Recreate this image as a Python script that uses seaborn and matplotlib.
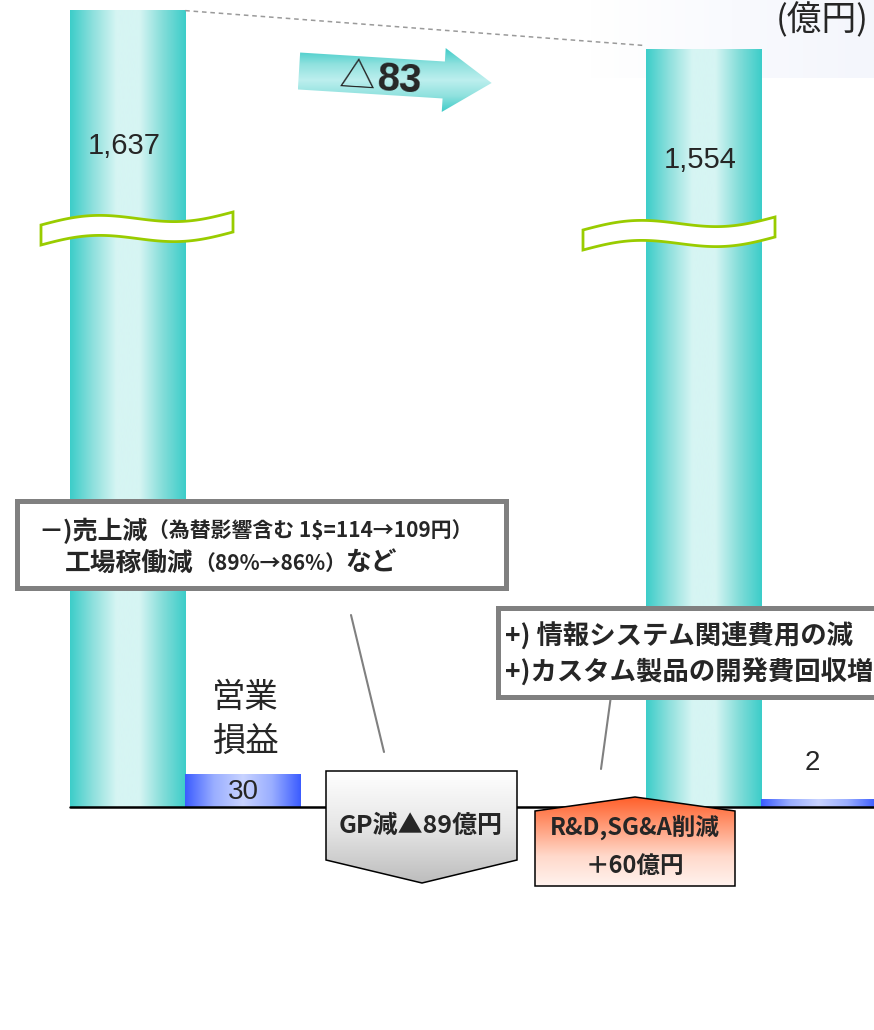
import numpy as np
import pandas as pd
import seaborn as sns
import matplotlib.pyplot as plt
from matplotlib.colors import LinearSegmentedColormap
from matplotlib.patches import Polygon, Rectangle

# ---- data (億円) ----
items = ["前期売上高", "前期営業損益", "当期売上高", "当期営業損益"]
kinds = ["sales", "profit", "sales", "profit"]
values = [1637, 30, 1554, 2]
sales_change = "△83"
gp_text = "GP減▲89億円"
cost_text = ["R&D,SG&A削減", "＋60億円"]
slot_order = ["前期売上高", "前期営業損益", " ", "  ", "   ", "当期売上高", "当期営業損益"]

W, H = 874, 1030
BASE_PX = 807           # baseline row in the picture
SLOT = 115.2            # px per category slot

# broken axis: 0..1000 squeezed into 497px, above that 0.47px per 億円
def sales_px(v):
    return 497 + (v - 1000) * 0.47

# operating profit drawn on its own enlarged scale
def profit_px(v):
    return 6 + 0.87 * v

df = pd.DataFrame({"item": items, "kind": kinds, "value": values})
df["shown"] = [sales_px(v) if k == "sales" else profit_px(v) for v, k in zip(df["value"], df["kind"])]

sns.set_theme(style="white")
plt.rcParams['font.family'] = ['Noto Sans CJK JP', 'DejaVu Sans']
NUM_FONT = ['Liberation Sans', 'DejaVu Sans']

fig = plt.figure(figsize=(W / 100, H / 100), dpi=100)

# faint background panel top right
ax_bg = fig.add_axes([0, 0, 1, 1], zorder=0)
ax_bg.set_xlim(0, W)
ax_bg.set_ylim(H, 0)
ax_bg.axis('off')
bg_cmap = LinearSegmentedColormap.from_list('bg', ['#ffffff', '#f9fafe', '#f4f6fc'])
ax_bg.imshow(np.linspace(0, 1, 256).reshape(1, -1), cmap=bg_cmap, aspect='auto',
             extent=(590, W, 78, 0), zorder=0)
ax_bg.set_xlim(0, W)
ax_bg.set_ylim(H, 0)

# ---- bars ----
ax = fig.add_axes([0, 0, 1, 1], zorder=1)
sns.barplot(data=df, x="item", y="shown", order=slot_order, width=1, color="#40CCCC",
            saturation=1, errorbar=None, ax=ax)

cyan = LinearSegmentedColormap.from_list('cy', ['#3ccdc9', '#8fe0dd', '#d6f5f3', '#d6f5f3', '#84ddd9', '#3ccdc9'])
blue = LinearSegmentedColormap.from_list('bl', ['#3b5cff', '#9aaeff', '#c8d3ff', '#9aaeff', '#3b5cff'])
kind_of = dict(zip(df["item"], df["kind"]))
bars = {}
for p in ax.patches:
    x0, w, h = p.get_x(), p.get_width(), p.get_height()
    if h <= 0:
        continue
    cat = slot_order[int(round(x0 + w / 2))]
    bars[cat] = (x0, w, h)
    cmap = cyan if kind_of[cat] == "sales" else blue
    ax.imshow(np.linspace(0, 1, 256).reshape(1, -1), cmap=cmap, aspect='auto',
              extent=(x0, x0 + w, 0, h), zorder=3, interpolation='bilinear')

left = -0.5 - 70 / SLOT
ax.set_xlim(left, left + W / SLOT)
ax.set_ylim(-(H - BASE_PX), BASE_PX)
ax.axis('off')

# dashed connector between sales bar tops
s1, s2 = bars["前期売上高"], bars["当期売上高"]
ax.plot([s1[0] + s1[1], s2[0]], [s1[2], s2[2] + 4], ls=(0, (3, 2.5)), color='#9a9a9a', lw=1.1, zorder=4)

# baseline
ax.plot([-0.5, left + W / SLOT], [0, 0], color='black', lw=1.8, zorder=5)

# sales labels
for cat, drop in [("前期売上高", 135), ("当期売上高", 110)]:
    x0, w, h = bars[cat]
    v = df.loc[df["item"] == cat, "value"].iloc[0]
    ax.text(x0 + w / 2 - 0.03, h - drop, f"{v:,}", ha='center', va='center',
            fontsize=21, family=NUM_FONT, zorder=6)

# ---- overlay in pixel coordinates ----
ax2 = fig.add_axes([0, 0, 1, 1], zorder=3)
ax2.set_xlim(0, W)
ax2.set_ylim(H, 0)
ax2.axis('off')


def grad_poly(pts, colors, z, ec='black', lw=1.1):
    pts = np.asarray(pts, float)
    poly = Polygon(pts, closed=True, fc='none', ec=ec, lw=lw, zorder=z + 0.1)
    ax2.add_patch(poly)
    cm = LinearSegmentedColormap.from_list('g', colors)
    im = ax2.imshow(np.linspace(0, 1, 256).reshape(-1, 1), cmap=cm, aspect='auto', origin='upper',
                    extent=(pts[:, 0].min(), pts[:, 0].max(), pts[:, 1].max(), pts[:, 1].min()),
                    zorder=z, interpolation='bilinear')
    im.set_clip_path(poly)


def ribbon(x0, y0, width, rise=13, amp=6, thick=20):
    t = np.linspace(0, 1, 80)
    xs = x0 + width * t
    top = y0 - rise * t - amp * np.sin(2 * np.pi * t)
    pts = np.vstack([np.c_[xs, top], np.c_[xs[::-1], top[::-1] + thick]])
    ax2.add_patch(Polygon(pts, closed=True, fc='white', ec='#99cc00', lw=2, zorder=4))


ribbon(41, 225, 192)
ribbon(583, 230, 192)

# △83 arrow (slightly tilted)
theta = np.arctan2(12, 193)
local = np.array([(0, -18.5), (145, -18.5), (145, -32), (193, 0), (145, 32), (145, 18.5), (0, 18.5)])
ox, oy = 299, 71
arrow = np.c_[ox + local[:, 0] * np.cos(theta) - local[:, 1] * np.sin(theta),
              oy + local[:, 0] * np.sin(theta) + local[:, 1] * np.cos(theta)]
grad_poly(arrow, ['#3ecbc8', '#8fe1de', '#bdefee', '#8fe1de', '#3ecbc8'], 4, ec='none', lw=0)
ax2.text(358, 78, sales_change[0], fontsize=26, ha='center', va='center',
         rotation=-np.degrees(theta), zorder=6)
ax2.text(400, 80, sales_change[1:], fontsize=29, fontweight='bold', ha='center', va='center',
         rotation=-np.degrees(theta), family=NUM_FONT, zorder=6)

# unit
ax2.text(869, 3, "(億円)", fontsize=25, ha='right', va='top', zorder=6)

# callout 1
ax2.add_patch(Rectangle((16.5, 500.5), 489, 87, fc='white', ec='#808080', lw=3.6, zorder=4))


def mixed_line(x, y, parts):
    t = ax2.text(x, y, parts[0][0], fontsize=parts[0][1], fontweight='bold', ha='left', va='center', zorder=6)
    for txt, size in parts[1:]:
        t = ax2.annotate(txt, xy=(1, 0.5), xycoords=t, fontsize=size, fontweight='bold',
                         ha='left', va='center', zorder=6)


mixed_line(38, 531, [("－)売上減", 18), ("（為替影響含む 1$=114→109円）", 15)])
mixed_line(65, 563, [("工場稼働減", 18.5), ("（89%→86%）", 15), ("など", 18.5)])
ax2.plot([351, 384], [615, 752], color='#808080', lw=1.5, zorder=3)

# callout 2
ax2.add_patch(Rectangle((497.5, 607.5), 420, 89, fc='white', ec='#808080', lw=3.6, zorder=4))
ax2.text(505, 637, "+) 情報システム関連費用の減", fontsize=19, fontweight='bold', ha='left', va='center', zorder=6)
ax2.text(505, 673, "+)カスタム製品の開発費回収増", fontsize=19, fontweight='bold', ha='left', va='center', zorder=6)
ax2.plot([613, 601], [681, 769], color='#808080', lw=1.5, zorder=3)

# 営業損益 label and profit values
ax2.text(245, 698, "営業", fontsize=24, ha='center', va='center', zorder=6)
ax2.text(245, 741, "損益", fontsize=24, ha='center', va='center', zorder=6)
ax2.text(243, 792, f"{values[1]}", fontsize=20, family=NUM_FONT, ha='center', va='center', zorder=6)
ax2.text(812, 763, f"{values[3]}", fontsize=20, family=NUM_FONT, ha='center', va='center', zorder=6)

# GP down box
gp = [(326, 771), (517, 771), (517, 860), (422, 883), (326, 860)]
grad_poly(gp, ['#ffffff', '#e6e6e6', '#bdbdbd'], 4)
ax2.text(421, 826, gp_text, fontsize=18, fontweight='bold', ha='center', va='center', zorder=6)

# cost cut box
cc = [(535, 811), (635, 797), (735, 811), (735, 886), (535, 886)]
grad_poly(cc, ['#ff5f2a', '#ff9d7a', '#ffd9cb', '#fff3ee'], 4)
ax2.text(635, 827, cost_text[0], fontsize=17, fontweight='bold', ha='center', va='center', zorder=6)
ax2.text(635, 866, cost_text[1], fontsize=17, fontweight='bold', ha='center', va='center', zorder=6)

ax2.set_xlim(0, W)
ax2.set_ylim(H, 0)

fig.savefig("out.png", dpi=100)
